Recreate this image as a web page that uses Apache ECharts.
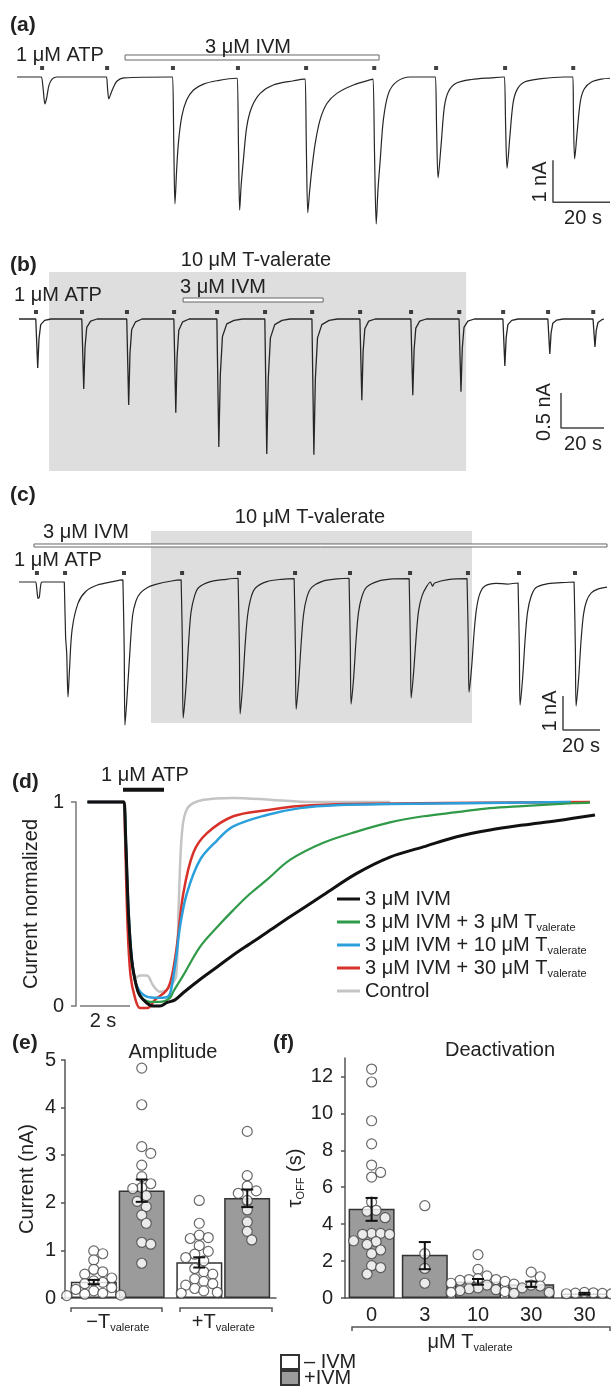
<!DOCTYPE html>
<html>
<head>
<meta charset="utf-8">
<script src="https://cdn.jsdelivr.net/npm/echarts@6.0.0/dist/echarts.min.js"></script>
<style>
html, body { margin: 0; padding: 0; background: #fff; }
#fig { width: 611px; height: 1395px; }
</style>
</head>
<body>
<div id="fig"></div>
<script>
// ---------- values ----------
// (a) ATP pulse times (s), IVM window (s), current trace [s, nA]
var aPulse = [8.8, 31.6, 54.7, 77.5, 101.4, 125.3, 147.0, 171.2, 195.1];
var aIVM = [37.9, 127.0];
var aTrace = [
  [0,0],[8.3,0],[8.6,0],[9.2,-0.3],[9.8,-0.64],[10.4,-0.5],[11.2,-0.2],[12.3,-0.05],[14,0],
  [31.1,0],[31.4,0],[31.8,-0.3],[32.2,-0.52],[32.8,-0.42],[33.6,-0.28],[35,-0.1],[37.5,-0.02],
  [54.3,0],[54.6,0],[55.0,-1.6],[55.4,-3.02],[56.0,-2.21],[56.6,-1.58],[57.8,-0.94],[59.5,-0.55],[61.9,-0.31],[65.4,-0.17],[70.1,-0.09],[77.0,-0.03],[77.3,-0.03],
  [77.7,-1.7],[78.1,-3.17],[78.6,-2.6],[79.4,-1.98],[80.6,-1.18],[82.4,-0.71],[85.3,-0.39],[89.9,-0.19],[97,-0.09],[100.8,-0.05],[101.1,-0.05],
  [101.5,-1.7],[102.0,-3.23],[102.6,-2.75],[103.4,-2.21],[104.6,-1.58],[106.3,-1.02],[108.7,-0.63],[112.2,-0.39],[118,-0.19],[124.5,-0.055],[124.9,-0.05],
  [125.4,-1.8],[126,-3.5],[126.6,-2.7],[127.4,-1.98],[128.5,-1.02],[130.3,-0.39],[133.2,-0.11],[137.9,0],[146.5,0],[146.8,0],
  [147.2,-1.3],[147.7,-2.4],[148.8,-1.58],[149.9,-0.71],[151.3,-0.35],[154,-0.15],[159.5,-0.06],[166.3,-0.02],[170.7,0],[171,0],
  [171.4,-1.2],[171.9,-2.17],[172.9,-1.4],[174,-0.62],[175.4,-0.3],[178,-0.12],[184,-0.04],[192,0],[194.7,0],[195,0],
  [195.2,-1.0],[195.6,-1.95],[196.5,-1.3],[197.6,-0.58],[199,-0.28],[201.5,-0.12],[205,-0.05],[208,-0.03]
];

// (b)
var bPulse = [7.9, 29.3, 50.2, 72.1, 92.1, 114.4, 136.3, 158.6, 182.3, 204.7, 225.1, 246.0, 267.0];
var bIVM = [76.3, 141.4];
var bValerate = [14.0, 207.9];
var bTrace = [
  [0,0],
  [7.8,0],[8.7,-0.70],[9.3,-0.28],[10.1,-0.08],[11.9,-0.02],[14.9,0],
  [29.2,0],[30.1,-1.0],[30.7,-0.4],[31.5,-0.12],[33.3,-0.03],[36.3,0],
  [50.1,0],[51.0,-1.23],[51.6,-0.49],[52.4,-0.15],[54.2,-0.04],[57.2,0],
  [72.0,0],[72.9,-1.34],[73.5,-0.54],[74.3,-0.16],[76.1,-0.04],[79.1,0],
  [92.0,0],[92.9,-1.83],[93.6,-0.8],[94.6,-0.25],[96.6,-0.07],[100,-0.02],[104,0],
  [114.3,0],[115.2,-1.93],[115.9,-0.85],[116.9,-0.27],[118.9,-0.08],[122.3,-0.02],[126,0],
  [136.2,0],[137.1,-1.94],[137.8,-0.85],[138.8,-0.27],[140.8,-0.08],[144.2,-0.02],[148,0],
  [158.5,0],[159.4,-1.16],[160,-0.46],[160.8,-0.14],[162.6,-0.03],[165.6,0],
  [182.2,0],[183.1,-1.09],[183.7,-0.44],[184.5,-0.13],[186.3,-0.03],[189.3,0],
  [204.6,0],[205.5,-1.04],[206.1,-0.42],[206.9,-0.12],[208.7,-0.03],[211.7,0],
  [225.0,0],[225.9,-0.67],[226.5,-0.27],[227.3,-0.08],[229.1,-0.02],[232.1,0],
  [245.9,0],[246.8,-0.5],[247.4,-0.2],[248.2,-0.06],[250,-0.015],[253,0],
  [266.9,0],[267.8,-0.4],[268.4,-0.16],[269.2,-0.05],[271,-0.01],[272,0]
];

// (c)
var cPulse = [9.7, 24.9, 56.8, 88.2, 119.0, 149.3, 179.0, 211.5, 242.8, 270.4, 300.7];
var cIVM = [8.1, 318];
var cValerate = [71.4, 245];
var cTrace = [
  [0,0],[9.2,0],[9.5,0],[9.9,-0.35],[10.3,-0.48],[11,-0.44],[11.6,-0.15],[12.5,0],
  [24.5,0],[24.8,0],[25.2,-1.6],[25.8,-2.1],[26.5,-3.38],[27.3,-2.59],[28.7,-1.41],[31.9,-0.63],[36.1,-0.28],[42.4,-0.09],[50.8,0.01],[56.2,0.06],[56.5,0.06],
  [56.9,-2.0],[57.3,-4.21],[58.2,-3.57],[59.7,-2.29],[61.4,-1.0],[63.3,-0.55],[65.6,-0.33],[69.5,-0.16],[74,-0.07],[82.5,0.03],[87.7,0.06],[88.0,0.06],
  [88.4,-2.0],[88.8,-4.0],[90.3,-3.08],[91.6,-1.9],[93,-0.9],[95,-0.4],[97.2,-0.16],[103.5,0.01],[112,0.08],[118.5,0.11],[118.8,0.11],
  [119.2,-2.0],[119.6,-3.88],[121,-3.0],[122.3,-1.85],[123.6,-1.0],[125.5,-0.45],[128,-0.17],[134,0.01],[142,0.08],[148.8,0.1],[149.1,0.1],
  [149.5,-2.0],[149.9,-3.74],[151.3,-2.9],[152.6,-1.8],[153.9,-0.95],[155.8,-0.43],[158.3,-0.16],[164,0.02],[172,0.09],[178.5,0.11],[178.8,0.11],
  [179.2,-2.0],[179.6,-3.59],[181,-2.8],[182.3,-1.7],[183.6,-0.9],[185.5,-0.42],[188,-0.15],[194,0.02],[202,0.09],[211.0,0.1],[211.3,0.1],
  [211.7,-2.0],[212.1,-3.41],[213.5,-2.6],[214.8,-1.6],[216.1,-0.85],[218,-0.4],[220.5,-0.13],[222.5,0.0],[223.6,-0.12],[224.8,-0.03],[232,0.07],[242.3,0.1],[242.6,0.1],
  [243,-1.8],[243.4,-3.24],[244.8,-2.5],[246.1,-1.5],[247.4,-0.8],[249.2,-0.35],[252,-0.12],[258,-0.04],[264,-0.06],[269.9,-0.03],[270.2,-0.03],
  [270.6,-2.0],[271.0,-3.62],[272.4,-2.8],[273.7,-1.7],[275,-0.9],[276.8,-0.45],[279.5,-0.17],[285,-0.06],[293,-0.02],[300.2,0.0],[300.5,0.0],
  [300.9,-2.0],[301.3,-3.65],[302.7,-2.8],[304,-1.7],[305.3,-0.95],[307,-0.55],[309.5,-0.32],[313,-0.21],[318,-0.15]
];

// (d) normalized currents [s, I/Imax]
var dATP = [1.32, 2.96];
var dBlack = [[-0.1,1],[1.3,1],[1.36,1],[1.42,0.85],[1.54,0.45],[1.67,0.225],[1.85,0.1],[2.0,0.05],[2.27,0.015],[2.53,0],[2.8,0],[3.07,0.016],[3.4,0.03],[3.73,0.065],[4.4,0.13],[5.07,0.19],[5.73,0.25],[6.4,0.305],[7.07,0.36],[8.0,0.437],[9.33,0.544],[10.67,0.65],[12,0.73],[13.33,0.78],[14.67,0.83],[16,0.863],[17.33,0.887],[18.67,0.908],[20.2,0.936]];
var dGreen = [[-0.1,1],[1.3,1],[1.36,1],[1.42,0.85],[1.54,0.45],[1.67,0.225],[1.85,0.1],[2.0,0.05],[2.4,0.02],[2.8,0.02],[3.2,0.04],[3.33,0.07],[3.73,0.15],[4.4,0.29],[5.07,0.385],[5.73,0.47],[6.4,0.55],[7.07,0.618],[8.0,0.716],[9.33,0.8],[10.67,0.855],[12,0.9],[13.33,0.93],[14.67,0.95],[16,0.97],[17.3,0.98],[19.3,0.994],[20.0,0.997]];
var dBlue = [[-0.1,1],[1.3,1],[1.36,1],[1.42,0.85],[1.55,0.45],[1.7,0.2],[1.9,0.09],[2.27,0.046],[2.7,0.04],[3.07,0.043],[3.2,0.06],[3.33,0.14],[3.47,0.26],[3.6,0.39],[3.87,0.55],[4.4,0.716],[5.07,0.81],[5.73,0.88],[7.07,0.936],[8.4,0.97],[10,0.985],[12,0.99],[19.24,1.0]];
var dRed = [[-0.1,1],[1.3,1],[1.36,1],[1.4,0.85],[1.5,0.4],[1.62,0.15],[1.8,0.04],[2.0,-0.01],[2.3,-0.01],[2.6,0.03],[3.07,0.078],[3.27,0.144],[3.47,0.29],[3.73,0.55],[4.13,0.75],[4.67,0.846],[5.73,0.93],[7.07,0.96],[8.4,0.98],[10.43,0.99],[20.0,1.0]];
var dGray = [[-0.1,1],[1.3,1],[1.36,1],[1.45,0.7],[1.55,0.4],[1.7,0.2],[1.85,0.14],[2.0,0.15],[2.27,0.15],[2.53,0.1],[2.8,0.07],[3.07,0.08],[3.3,0.11],[3.45,0.15],[3.55,0.5],[3.68,0.85],[3.9,0.97],[4.5,1.01],[5.75,1.02],[7.31,1.01],[8.87,1.0],[12,1.0]];
var dNames = ['3 μM IVM', '3 μM IVM + 3 μM Tvalerate', '3 μM IVM + 10 μM Tvalerate', '3 μM IVM + 30 μM Tvalerate', 'Control'];

// (e) amplitude (nA)
var eGroups = ['−T', '+T'];
var eMeanNoIVM = [0.34, 0.75];
var eMeanIVM = [2.26, 2.10];
var eErrNoIVM = [[0.29, 0.38], [0.64, 0.855]];
var eErrIVM = [[2.02, 2.49], [1.91, 2.28]];
var eDotsNoIVM = [
  [0.99, 0.93, 0.8, 0.6, 0.55, 0.5, 0.42, 0.36, 0.33, 0.3, 0.22, 0.18, 0.15, 0.1, 0.08, 0.06, 0.05],
  [2.05, 1.57, 1.32, 1.27, 1.25, 1.1, 0.98, 0.92, 0.85, 0.78, 0.62, 0.55, 0.5, 0.4, 0.35, 0.3, 0.27, 0.2, 0.15, 0.12, 0.1]
];
var eDotsIVM = [
  [4.83, 4.06, 3.18, 3.04, 2.79, 2.55, 2.4, 2.32, 2.3, 2.15, 2.03, 1.92, 1.74, 1.57, 1.17, 1.13, 0.73],
  [3.5, 2.57, 2.35, 2.25, 2.2, 2.05, 1.85, 1.6, 1.4, 1.22]
];

// (f) tau off (s)
var fCats = ['0', '3', '10', '30', '30'];
var fMeanIVM = [4.84, 2.34, 0.89, 0.74, '-'];
var fMeanNoIVM = ['-', '-', '-', '-', 0.25];
var fErr = [[4.18, 5.42], [1.56, 3.03], [0.72, 1.03], [0.6, 0.89], [0.18, 0.28]];
var fDots = [
  [12.4, 11.7, 9.6, 8.35, 7.2, 6.8, 6.55, 5.2, 4.75, 4.7, 4.35, 3.5, 3.5, 3.45, 3.45, 3.1, 3.05, 2.9, 2.6, 2.4, 1.75, 1.65, 1.3],
  [5.0, 2.4, 1.6, 0.8],
  [2.35, 1.55, 1.2, 1.05, 1.0, 1.0, 0.95, 0.9, 0.8, 0.75, 0.7, 0.55, 0.5, 0.45, 0.4, 0.35, 0.3, 0.25],
  [1.4, 1.15, 0.7, 0.65, 0.55, 0.3],
  [0.3, 0.28, 0.26, 0.25, 0.23, 0.22]
];
var fTicks = [0, 2, 4, 6, 8, 10, 12];

// ---------- helpers ----------
var FONT = '"Liberation Sans", Arial, sans-serif';
var INK = '#222';
var SUB = { fontSize: 11, lineHeight: 11, verticalAlign: 'bottom', fontFamily: FONT, color: INK };
var BAR_W = 46, BAR_GAP = 2;

function trace(i, pts, w, smooth) {
  return { type: 'line', xAxisIndex: i, yAxisIndex: i, data: pts, symbol: 'none',
    smooth: smooth, clip: false, z: 3, silent: true,
    lineStyle: { color: '#262626', width: w } };
}
function pulses(i, times, y) {
  return { type: 'scatter', xAxisIndex: i, yAxisIndex: i, symbol: 'rect', symbolSize: 4, z: 4, silent: true,
    itemStyle: { color: '#111' }, data: times.map(function (t) { return [t, y]; }) };
}
function windowRect(i, win, yTop, yBot, style, z) {
  return { type: 'custom', xAxisIndex: i, yAxisIndex: i, z: z, silent: true, data: [win], encode: { x: [0, 1] },
    renderItem: function (params, api) {
      var p0 = api.coord([api.value(0), yTop]);
      var p1 = api.coord([api.value(1), yBot]);
      return { type: 'rect', shape: { x: p0[0], y: p0[1], width: p1[0] - p0[0], height: p1[1] - p0[1] }, style: style };
    } };
}
function scaleBar(i, pts, color) {
  return { type: 'line', xAxisIndex: i, yAxisIndex: i, data: pts, symbol: 'none', clip: false, z: 3, silent: true,
    lineStyle: { color: color || '#444', width: 1.5 } };
}
var HOLLOW = { fill: '#fff', stroke: '#666', lineWidth: 1 };
var SHADE = { fill: '#dedede' };

// simple beeswarm so open circles do not sit on top of each other
function swarm(vals, ppu) {
  var placed = [];
  return vals.map(function (v) {
    var y = v * ppu, dx = 0;
    for (var k = 0; k < 24; k++) {
      var cand = (k % 2 ? 1 : -1) * Math.ceil(k / 2) * 4.5;
      var ok = placed.every(function (p) {
        var a = cand - p[0], b = y - p[1];
        return a * a + b * b >= 81;
      });
      if (ok) { dx = cand; break; }
    }
    placed.push([dx, y]);
    return dx;
  });
}
function dots(i, cat, vals, base, ppu) {
  var off = swarm(vals, ppu);
  return { type: 'scatter', xAxisIndex: i, yAxisIndex: i, z: 4, symbol: 'circle', symbolSize: 10, silent: true,
    itemStyle: { color: '#fff', borderColor: '#444', borderWidth: 1.2 },
    data: vals.map(function (v, k) { return { value: [cat, v], symbolOffset: [base + off[k], 0] }; }) };
}
function errBars(i, rows, base) {
  return { type: 'custom', xAxisIndex: i, yAxisIndex: i, z: 5, silent: true,
    data: rows.map(function (r, k) { return [k, r[0], r[1]]; }), encode: { x: 0, y: [1, 2] },
    renderItem: function (params, api) {
      var lo = api.coord([api.value(0), api.value(1)]);
      var hi = api.coord([api.value(0), api.value(2)]);
      var x = lo[0] + base, st = { stroke: '#111', lineWidth: 2 };
      return { type: 'group', children: [
        { type: 'line', shape: { x1: x, y1: lo[1], x2: x, y2: hi[1] }, style: st },
        { type: 'line', shape: { x1: x - 6, y1: lo[1], x2: x + 6, y2: lo[1] }, style: st },
        { type: 'line', shape: { x1: x - 6, y1: hi[1], x2: x + 6, y2: hi[1] }, style: st }
      ] };
    } };
}
function txt(x, y, s, o) {
  o = o || {};
  return { type: 'text', x: x, y: y, rotation: o.rot || 0, silent: true, z: 10,
    style: { text: s, fill: INK, fontSize: o.size || 20, fontFamily: FONT, fontWeight: o.bold ? 'bold' : 'normal',
      align: o.align || 'left', verticalAlign: 'middle', lineHeight: 22, rich: { sub: SUB } } };
}
function bracket(x0, x1, y) {
  return { type: 'polyline', silent: true, shape: { points: [[x0, y + 4], [x0, y], [x1, y], [x1, y + 4]] },
    style: { stroke: '#555', lineWidth: 1.5, fill: null } };
}
function boxLegend(name, top) {
  return { orient: 'vertical', left: 280, top: top, padding: 0, itemWidth: 18, itemHeight: 14, icon: 'rect',
    selectedMode: false, data: [name], textStyle: { fontSize: 20, color: INK, fontFamily: FONT, lineHeight: 16 } };
}
var axisLineStyle = { color: '#555', width: 1.5 };
var axisLabelStyle = { fontSize: 20, color: INK, fontFamily: FONT };

// ---------- series ----------
var series = [];
// (a)
series.push(windowRect(0, aIVM, 0.524, 0.405, HOLLOW, 4));
series.push(trace(0, aTrace, 1.2, 0.3));
series.push(pulses(0, aPulse, 0.214));
series.push(scaleBar(0, [[188, -1.98], [188, -2.98], [208, -2.98]]));
// (b)
series.push(windowRect(1, bValerate, 0.671, -2.171, SHADE, 1));
series.push(windowRect(1, bIVM, 0.30, 0.243, HOLLOW, 4));
series.push(trace(1, bTrace, 1.3, false));
series.push(pulses(1, bPulse, 0.1));
series.push(scaleBar(1, [[252, -1.057], [252, -1.557], [272, -1.557]]));
// (c)
series.push(windowRect(2, cValerate, 1.5, -4.147, SHADE, 1));
series.push(windowRect(2, cIVM, 1.118, 1.029, HOLLOW, 4));
series.push(trace(2, cTrace, 1.2, 0.3));
series.push(pulses(2, cPulse, 0.265));
series.push(scaleBar(2, [[294.2, -3.35], [294.2, -4.35], [314.2, -4.35]]));
// (d)
function dLine(name, pts, color, w) {
  return { type: 'line', name: name, xAxisIndex: 3, yAxisIndex: 3, data: pts, symbol: 'none', smooth: 0.35,
    clip: false, z: 3, silent: true,
    lineStyle: { color: color, width: w }, itemStyle: { color: color } };
}
series.push(dLine(dNames[4], dGray, '#c4c4c4', 2.5));
series.push(dLine(dNames[3], dRed, '#d8312a', 2.5));
series.push(dLine(dNames[2], dBlue, '#2a9fdb', 2.5));
series.push(dLine(dNames[1], dGreen, '#2f9a48', 2.2));
series.push(dLine(dNames[0], dBlack, '#111', 3));
series.push({ type: 'line', xAxisIndex: 3, yAxisIndex: 3, symbol: 'none', clip: false, silent: true,
  data: [[dATP[0], 1.06], [dATP[1], 1.06]], lineStyle: { color: '#111', width: 4 } });
series.push(scaleBar(3, [[-0.4, 0], [1.6, 0]], '#777'));
// (e)
var eOff = (BAR_W + BAR_GAP) / 2;
var ePPU = 238 / 5;
series.push({ type: 'bar', name: '– IVM', xAxisIndex: 4, yAxisIndex: 4, data: eMeanNoIVM, barWidth: BAR_W, barGap: '4%',
  silent: true, itemStyle: { color: '#fff', borderColor: '#333', borderWidth: 1.5 } });
series.push({ type: 'bar', name: '+IVM', xAxisIndex: 4, yAxisIndex: 4, data: eMeanIVM, barWidth: BAR_W, barGap: '4%',
  silent: true, itemStyle: { color: '#9b9b9b', borderColor: '#333', borderWidth: 1.5 } });
eGroups.forEach(function (g, k) {
  series.push(dots(4, k, eDotsNoIVM[k], -eOff, ePPU));
  series.push(dots(4, k, eDotsIVM[k], eOff, ePPU));
});
series.push(errBars(4, eErrNoIVM, -eOff));
series.push(errBars(4, eErrIVM, eOff));
// (f)
var fPPU = 240 / 13;
series.push({ type: 'bar', name: '+IVM', xAxisIndex: 5, yAxisIndex: 5, data: fMeanIVM, barWidth: BAR_W, barGap: '-100%',
  silent: true, itemStyle: { color: '#9b9b9b', borderColor: '#333', borderWidth: 1.5 } });
series.push({ type: 'bar', name: '– IVM', xAxisIndex: 5, yAxisIndex: 5, data: fMeanNoIVM, barWidth: BAR_W, barGap: '-100%',
  silent: true, itemStyle: { color: '#fff', borderColor: '#333', borderWidth: 1.5 } });
fDots.forEach(function (vals, k) { series.push(dots(5, k, vals, 0, fPPU)); });
series.push(errBars(5, fErr, 0));

// ---------- text and decorations ----------
var R = Math.PI / 2;
var graphics = [
  txt(10, 25, '(a)', { bold: true, size: 21 }),
  txt(16, 55, '1 μM ATP'),
  txt(248, 47, '3 μM IVM', { align: 'center' }),
  txt(540, 182, '1 nA', { align: 'center', rot: R }),
  txt(583, 218, '20 s', { align: 'center' }),

  txt(10, 265, '(b)', { bold: true, size: 21 }),
  txt(256, 260, '10 μM T-valerate', { align: 'center' }),
  txt(180, 287, '3 μM IVM'),
  txt(14, 295, '1 μM ATP'),
  txt(544, 412, '0.5 nA', { align: 'center', rot: R }),
  txt(583, 444, '20 s', { align: 'center' }),

  txt(10, 495, '(c)', { bold: true, size: 21 }),
  txt(310, 517, '10 μM T-valerate', { align: 'center' }),
  txt(43, 532, '3 μM IVM'),
  txt(14, 560, '1 μM ATP'),
  txt(550, 711, '1 nA', { align: 'center', rot: R }),
  txt(581, 746, '20 s', { align: 'center' }),

  txt(12, 782, '(d)', { bold: true, size: 21 }),
  txt(145, 775, '1 μM ATP', { align: 'center' }),
  txt(103, 1021, '2 s', { align: 'center' }),

  txt(12, 1043, '(e)', { bold: true, size: 21 }),
  txt(173, 1052, 'Amplitude', { align: 'center' }),
  bracket(71, 162, 1308),
  bracket(180, 272, 1308),

  txt(273, 1043, '(f)', { bold: true, size: 21 }),
  txt(500, 1050, 'Deactivation', { align: 'center' }),
  bracket(352, 610, 1327),
  txt(470, 1342, 'μM T{sub|valerate}', { align: 'center' })
];

var option = {
  animation: false,
  backgroundColor: '#fff',
  textStyle: { fontFamily: FONT },
  grid: [
    { left: 17, top: 35, width: 593, height: 210 },
    { left: 19, top: 249, width: 585, height: 224 },
    { left: 19, top: 514, width: 588, height: 221 },
    { left: 76, top: 802, width: 534, height: 204 },
    { left: 65, top: 1060, width: 211, height: 238 },
    { left: 345, top: 1058, width: 270, height: 240 }
  ],
  xAxis: [
    { gridIndex: 0, type: 'value', min: 0, max: 208, show: false },
    { gridIndex: 1, type: 'value', min: 0, max: 272, show: false },
    { gridIndex: 2, type: 'value', min: 0, max: 318, show: false },
    { gridIndex: 3, type: 'value', min: -0.56, max: 20.8, show: false },
    { gridIndex: 4, type: 'category', data: eGroups,
      axisLine: { lineStyle: axisLineStyle }, axisTick: { show: false },
      axisLabel: { interval: 0, margin: 13, fontSize: 20, color: INK, fontFamily: FONT, lineHeight: 22,
        formatter: function (v) { return v + '{sub|valerate}'; }, rich: { sub: SUB } } },
    { gridIndex: 5, type: 'category', data: fCats,
      axisLine: { lineStyle: axisLineStyle }, axisTick: { show: false },
      axisLabel: { interval: 0, margin: 7, fontSize: 20, color: INK, fontFamily: FONT } }
  ],
  yAxis: [
    { gridIndex: 0, type: 'value', min: -4, max: 1, show: false },
    { gridIndex: 1, type: 'value', min: -2.2, max: 1.0, show: false },
    { gridIndex: 2, type: 'value', min: -4.5, max: 2.0, show: false },
    { gridIndex: 3, type: 'value', min: 0, max: 1, interval: 1,
      axisLine: { show: true, onZero: false, lineStyle: { color: '#777', width: 1.5 } },
      axisTick: { show: true, length: 5, lineStyle: { color: '#777', width: 1.5 } },
      axisLabel: Object.assign({ margin: 12 }, axisLabelStyle), splitLine: { show: false },
      name: 'Current normalized', nameLocation: 'middle', nameGap: 25,
      nameTextStyle: { fontSize: 20, color: INK, fontFamily: FONT } },
    { gridIndex: 4, type: 'value', min: 0, max: 5, interval: 1,
      axisLine: { show: true, lineStyle: axisLineStyle },
      axisTick: { show: true, length: 4, lineStyle: axisLineStyle },
      axisLabel: Object.assign({ margin: 9 }, axisLabelStyle), splitLine: { show: false },
      name: 'Current (nA)', nameLocation: 'middle', nameGap: 28,
      nameTextStyle: { fontSize: 20, color: INK, fontFamily: FONT } },
    { gridIndex: 5, type: 'value', min: 0, max: 13, interval: 2,
      axisLine: { show: true, lineStyle: axisLineStyle },
      axisTick: { show: true, length: 4, lineStyle: axisLineStyle, customValues: fTicks },
      axisLabel: Object.assign({ margin: 12, customValues: fTicks }, axisLabelStyle), splitLine: { show: false },
      name: 'τ{sub|OFF} (s)', nameLocation: 'middle', nameGap: 38,
      nameTextStyle: { fontSize: 20, color: INK, fontFamily: FONT, lineHeight: 22, rich: { sub: SUB } } }
  ],
  legend: [
    { orient: 'vertical', left: 337, top: 888, padding: 0, itemWidth: 23, itemHeight: 3, itemGap: 1, icon: 'rect',
      selectedMode: false, data: dNames,
      formatter: function (n) { return n.replace('Tvalerate', 'T{sub|valerate}'); },
      textStyle: { fontSize: 20, color: INK, fontFamily: FONT, lineHeight: 22, rich: { sub: SUB } } },
    boxLegend('– IVM', 1352),
    boxLegend('+IVM', 1368)
  ],
  graphic: graphics,
  series: series
};

var chart = echarts.init(document.getElementById('fig'));
chart.setOption(option);
</script>
</body>
</html>
